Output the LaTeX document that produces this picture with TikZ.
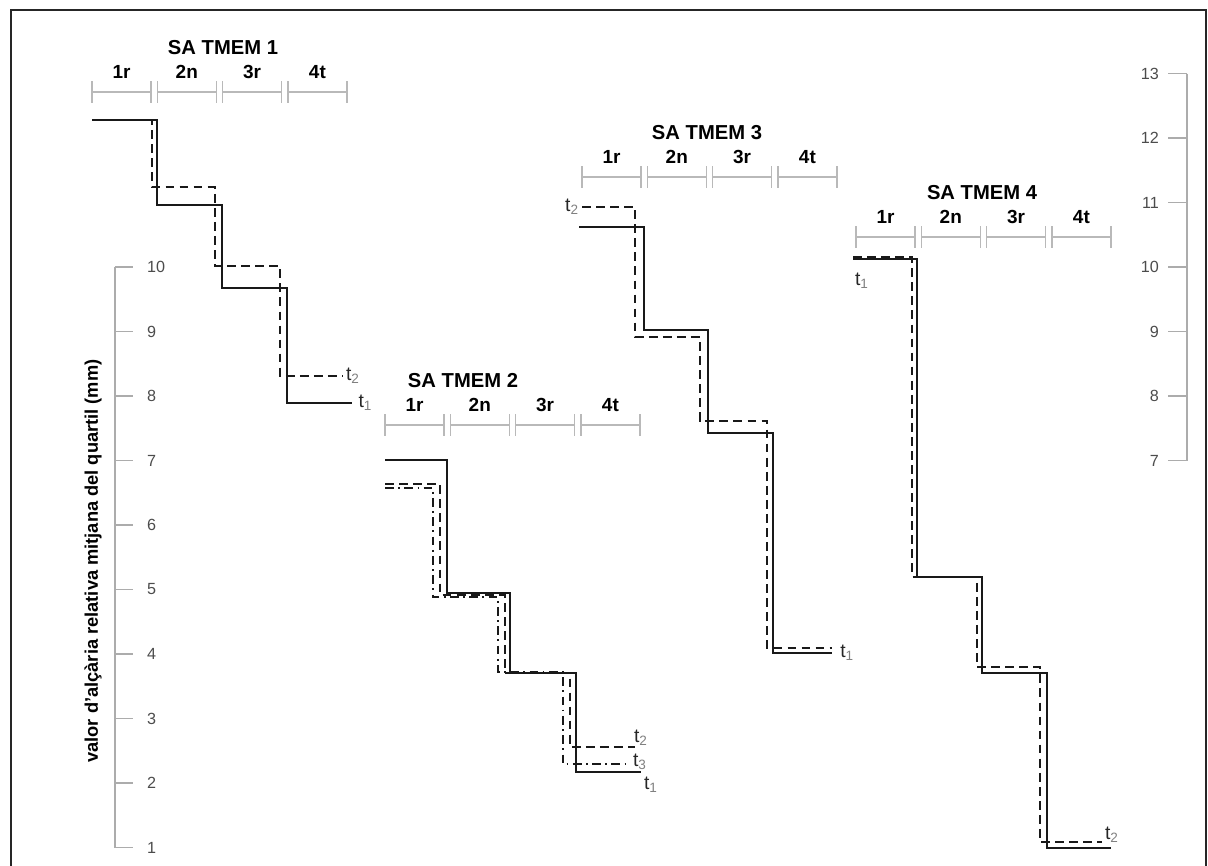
\documentclass[tikz,border=0pt]{standalone}
\usepackage{fontspec}
\setmainfont{Liberation Sans}
\usetikzlibrary{calc}
\newcommand{\tsub}[1]{t\textsubscript{\color{gray}#1}}

\begin{document}
\begin{tikzpicture}[x=0.02cm, y=-0.02cm,
  sol/.style={black!90, line width=1.5pt},
  dsh/.style={black!90, line width=1.5pt, dash pattern=on 5pt off 3pt},
  dshdot/.style={black!90, line width=1.5pt, dash pattern=on 5pt off 2.5pt on 1pt off 2.5pt},
  bar/.style={gray!55, line width=0.8pt},
  axis/.style={gray!65, line width=0.8pt},
  tlab/.style={font=\fontsize{11}{12}\selectfont, text=black!85, inner sep=1pt}]
\useasboundingbox (0,0) rectangle (1208,866);
\draw[black!85, line width=0.9pt] (11,866) -- (11,10) -- (1206,10) -- (1206,866);
% quartile bars and titles
\foreach \x/\y/\tx/\n in {92/92/223/1, 385/425/463/2, 582/177/707/3, 856/237/982/4} {
 \node[font=\bfseries\fontsize{11.5}{13}\selectfont] (title\n) at (\tx,\y-44) {SA TMEM \n};
 \foreach \i/\q in {0/1r, 1/2n, 2/3r, 3/4t} {
  \draw[bar] (\x+\i*65.3,\y-11) --++(0,22) (\x+\i*65.3,\y) --++(59,0) (\x+\i*65.3+59,\y-11) --++(0,22);
  \node[font=\bfseries\fontsize{10.8}{12}\selectfont] (q\n\q) at (\x+\i*65.3+29.5,\y-20) {\q};
 }
}
% left axis
\draw[axis] (115,267) -- (115,848);
\foreach \v in {1,...,10} {
 \draw[axis] (115,{267+(10-\v)*64.5}) --++(18,0);
 \node[anchor=west, text=black!70, font=\fontsize{9.2}{10}\selectfont] (l\v) at (141,{267+(10-\v)*64.5}) {\v};
}
\node[rotate=90, font=\bfseries\fontsize{10.4}{12}\selectfont] (ytitle) at (93,561) {valor d'alçària relativa mitjana del quartil (mm)};
% right axis
\draw[axis] (1187,{267-3*64.5}) -- (1187,{267+3*64.5});
\foreach \v in {7,...,13} {
 \draw[axis] (1187,{267+(10-\v)*64.5}) --++(-19,0);
 \node[anchor=east, text=black!70, font=\fontsize{9.2}{10}\selectfont] (r\v) at (1165,{267+(10-\v)*64.5}) {\v};
}
% SA TMEM 1
\draw[sol] (92,120) -| (157,205) -| (222,288) -| (287,403) -- (352,403) node[tlab, anchor=west, xshift=2pt] (a1) {\tsub1};
\draw[dsh] (92,120) -| (152,187) -| (215,266) -| (280,376) -- (343,376) node[tlab, anchor=west] (a2) {\tsub2};
% SA TMEM 2
\draw[sol] (385,460) -| (447,593) -| (510,673) -| (576,772) -- (641,772) node[tlab, anchor=north west, yshift=-1pt] (b1) {\tsub1};
\draw[dsh] (385,484) -| (440,595) -| (505,673) -| (570,747) -- (635,747);
\draw[dshdot] (385,488) -| (433,597) -| (498,672) -| (563,764) -- (627,764);
\node[tlab, anchor=west] (b2) at (632,738) {\tsub2};
\node[tlab, anchor=west] (b3) at (631,762) {\tsub3};
% SA TMEM 3
\draw[sol] (579,227) -| (644,330) -| (708,433) -| (773,653) -- (832,653) node[tlab, anchor=west, xshift=3pt] (c1) {\tsub1};
\draw[dsh] (582,207) node[tlab, anchor=east] (c2) {\tsub2} -| (635,337) -| (700,421) -| (767,648) -- (832,648);
% SA TMEM 4
\draw[sol] (853,259) -| (917,577) -| (982,673) -| (1047,848) -- (1111,848);
\draw[dsh] (853,257) -| (912,577) -| (977,667) -| (1040,842) -- (1102,842) node[tlab, anchor=south west, yshift=-2pt] (d2) {\tsub2};
\node[tlab] (d1) at (862,281) {\tsub1};
\end{tikzpicture}
\end{document}
